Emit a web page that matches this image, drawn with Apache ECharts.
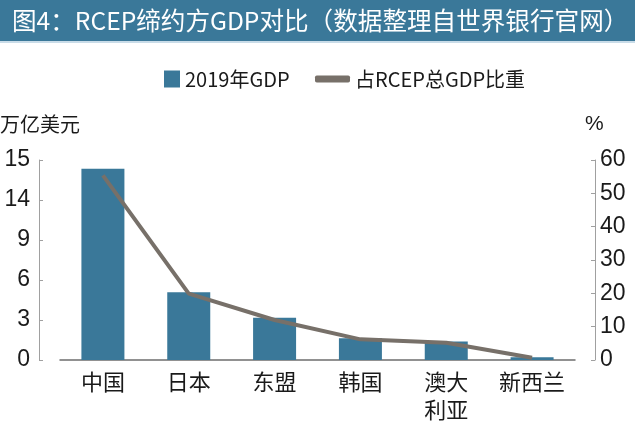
<!DOCTYPE html>
<html><head><meta charset="utf-8">
<script src="https://cdn.jsdelivr.net/npm/echarts@6/dist/echarts.min.js"></script>
<style>html,body{margin:0;padding:0;background:#fff}#c{width:635px;height:425px}</style>
</head><body><div id="c"></div>
<script>
const categories = ['中国', '日本', '东盟', '韩国', '澳大\n利亚', '新西兰'];
const gdp2019 = [14.34, 5.08, 3.17, 1.63, 1.38, 0.21];
const sharePct = [55.4, 19.9, 12.0, 6.2, 5.2, 0.7];
const leftTickValues = [0, 3, 6, 9, 12, 15];
const leftTickLabels = ['0', '3', '6', '9', '14', '15'];
const rightTickLabels = ['0', '10', '20', '30', '40', '50', '60'];
const titleText = '图4：RCEP缔约方GDP对比（数据整理自世界银行官网）';
const barName = '2019年GDP';
const lineName = '占RCEP总GDP比重';
const leftUnit = '万亿美元';
const rightUnit = '%';

const FONT = '"Noto Sans CJK SC", "Noto Sans", sans-serif';
const NUMFONT = '"Liberation Sans", "DejaVu Sans", sans-serif';
const chart = echarts.init(document.getElementById('c'), null, {renderer: 'canvas'});
chart.setOption({
  animation: false,
  backgroundColor: '#fff',
  textStyle: {fontFamily: FONT},
  graphic: [
    {type: 'rect', left: 0, top: 0, shape: {width: 635, height: 41}, style: {fill: '#3a7899'}, z: 0},
    {type: 'rect', left: 0, top: 41, shape: {width: 635, height: 2}, style: {fill: '#c9dce8'}, z: 0},
    {type: 'text', left: 0, top: 114, style: {text: leftUnit, fill: '#1a1a1a', font: '20px ' + FONT}},
    {type: 'text', left: 585, top: 114, style: {text: rightUnit, fill: '#1a1a1a', font: '21px ' + NUMFONT}}
  ],
  title: {
    text: titleText, left: 7, top: 3,
    textStyle: {color: '#fff', fontSize: 24.6, fontWeight: 'normal', fontFamily: FONT}
  },
  legend: [
    {data: [{name: barName, icon: 'rect'}], left: 159, top: 64, itemWidth: 16, itemHeight: 17, itemGap: 3,
     textStyle: {fontSize: 20, color: '#1a1a1a', fontFamily: FONT}},
    {data: [{name: lineName, icon: 'roundRect'}], left: 310, top: 64, itemWidth: 35, itemHeight: 7, itemGap: 3,
     textStyle: {fontSize: 20, color: '#1a1a1a', fontFamily: FONT}}
  ],
  grid: {left: 60, right: 60, top: 160, bottom: 65, containLabel: false},
  xAxis: {
    type: 'category', data: categories,
    axisLine: {lineStyle: {color: '#6e6e6e', width: 1.5}},
    axisTick: {inside: true, length: 5, lineStyle: {color: '#999'}},
    axisLabel: {fontSize: 22, color: '#1a1a1a', margin: 8, lineHeight: 28, fontFamily: FONT}
  },
  yAxis: [
    {type: 'value', min: 0, max: 15, interval: 3, offset: 21, position: 'left',
     axisLine: {show: true, lineStyle: {color: '#a0a0a0'}},
     axisTick: {show: true, inside: true, length: 4, lineStyle: {color: '#a0a0a0'}},
     splitLine: {show: false},
     axisLabel: {fontSize: 23, color: '#1a1a1a', margin: 9, fontFamily: NUMFONT,
       formatter: v => { const i = leftTickValues.indexOf(v); return i >= 0 ? leftTickLabels[i] : ''; }}},
    {type: 'value', min: 0, max: 60, interval: 10, offset: 20, position: 'right',
     axisLine: {show: true, lineStyle: {color: '#a0a0a0'}},
     axisTick: {show: true, inside: true, length: 4, lineStyle: {color: '#a0a0a0'}},
     splitLine: {show: false},
     axisLabel: {fontSize: 23, color: '#1a1a1a', margin: 5, fontFamily: NUMFONT,
       formatter: v => rightTickLabels[Math.round(v / 10)]}}
  ],
  series: [
    {name: barName, type: 'bar', data: gdp2019, yAxisIndex: 0, barWidth: 43,
     itemStyle: {color: '#3a7899'}},
    {name: lineName, type: 'line', data: sharePct, yAxisIndex: 1, symbol: 'none',
     lineStyle: {color: '#777069', width: 4}, itemStyle: {color: '#777069'}, z: 3}
  ]
});
</script></body></html>
